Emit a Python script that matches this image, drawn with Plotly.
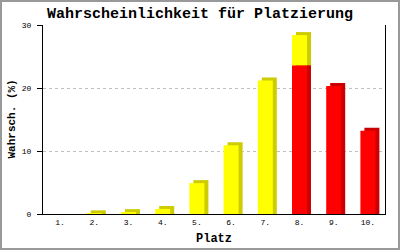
import plotly.graph_objects as go

categories = ["1.", "2.", "3.", "4.", "5.", "6.", "7.", "8.", "9.", "10."]
red_values = [0, 0, 0, 0, 0, 0, 0, 23.6, 20.3, 13.2]
yellow_values = [0, 0.1, 0.3, 0.8, 4.9, 10.9, 21.2, 4.8, 0, 0]
y_ticks = [0, 10, 20, 30]

W, H = 400, 250
L, R, T, B = 43, 15, 25, 36
plot_w = W - L - R
plot_h = H - T - B
n = len(categories)
cat_px = plot_w / n
unit_px = plot_h / 30.0

bar_w = 15 / cat_px
dx = 4 / cat_px
dy = 3 / unit_px

font = "Liberation Mono"

def depth(vals):
    return [v + dy if v > 0 else 0 for v in vals]

fig = go.Figure()
common = dict(width=bar_w, marker_line_width=0, hoverinfo="skip", showlegend=False)
# depth (side/top) faces
fig.add_trace(go.Bar(x=categories, y=depth(red_values), base=[0] * n,
                     offset=-bar_w / 2 + dx, marker_color="#CC0000", **common))
fig.add_trace(go.Bar(x=categories, y=depth(yellow_values), base=red_values,
                     offset=-bar_w / 2 + dx, marker_color="#CCCC00", **common))
# front faces
fig.add_trace(go.Bar(x=categories, y=red_values, base=[0] * n,
                     offset=-bar_w / 2, marker_color="#FF0000", **common))
fig.add_trace(go.Bar(x=categories, y=yellow_values, base=red_values,
                     offset=-bar_w / 2, marker_color="#FFFF00", **common))

fig.update_layout(
    width=W, height=H,
    margin=dict(l=L, r=R, t=T, b=B, pad=0),
    barmode="overlay",
    paper_bgcolor="white", plot_bgcolor="white",
    title=dict(text="<b>Wahrscheinlichkeit für Platzierung</b>",
               font=dict(family=font, size=15, color="black"),
               x=0.5, xanchor="center", y=1 - 13 / H, yanchor="middle",
               xref="container", yref="container"),
    xaxis=dict(type="category", range=[-0.5, n - 0.5], showline=True,
               linecolor="black", linewidth=1, ticks="", showgrid=False,
               tickfont=dict(family=font, size=8, color="black"),
               fixedrange=True),
    yaxis=dict(range=[0, 30], tickvals=y_ticks, showline=True, mirror=True,
               linecolor="black", linewidth=1, ticks="outside", ticklen=5,
               tickcolor="black", showgrid=True, gridcolor="#C0C0C0",
               griddash="3px,3px", gridwidth=1, zeroline=False,
               ticklabelstandoff=4,
               tickfont=dict(family=font, size=8, color="black"),
               fixedrange=True),
    annotations=[
        dict(text="<b>Wahrsch. (%)</b>", textangle=-90, xref="paper", yref="paper",
             x=0, y=0.5, xanchor="center", yanchor="middle", xshift=11 - L,
             showarrow=False, font=dict(family=font, size=11, color="black")),
        dict(text="<b>Platz</b>", xref="paper", yref="paper", x=0.5, y=0,
             xanchor="center", yanchor="middle", yshift=-(239 - (H - B)),
             showarrow=False, font=dict(family=font, size=12, color="black")),
    ],
    shapes=[
        dict(type="rect", xref="paper", yref="paper",
             x0=(1 - L) / plot_w, x1=(W - 1 - L) / plot_w,
             y0=((H - B) - (H - 1)) / plot_h, y1=((H - B) - 1) / plot_h,
             line=dict(color="#999999", width=2), fillcolor="rgba(0,0,0,0)",
             layer="above"),
    ],
)

fig.write_html("out.html", config={"displayModeBar": False})
